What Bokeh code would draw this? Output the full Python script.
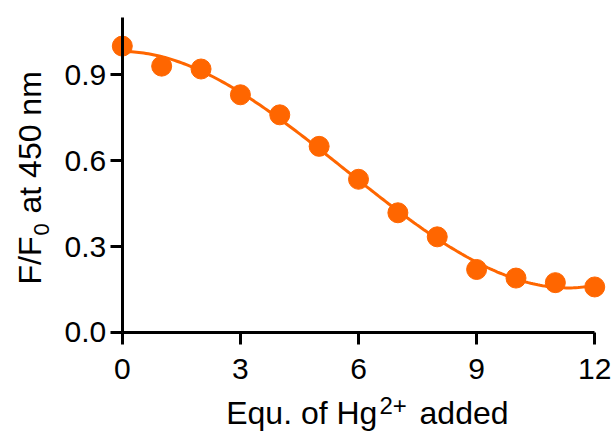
import numpy as np
from bokeh.plotting import figure
from bokeh.models import Range1d, FixedTicker, PrintfTickFormatter, Label
from bokeh.embed import file_html
from bokeh.resources import INLINE

# Data
equiv = [0, 1, 2, 3, 4, 5, 6, 7, 8, 9, 10, 11, 12]
ratio = [1.00, 0.93, 0.92, 0.83, 0.76, 0.65, 0.535, 0.418, 0.334, 0.22, 0.19, 0.174, 0.159]
x_ticks = [0, 3, 6, 9, 12]
y_ticks = [0.0, 0.3, 0.6, 0.9]

ORANGE = "#FF6600"
FONT = "Liberation Sans"

p = figure(width=613, height=432, output_backend="svg", toolbar_location=None,
           x_range=Range1d(-3.094, 12.477), y_range=Range1d(-0.3492, 1.1592),
           min_border=0)
p.outline_line_color = None
p.grid.visible = False
p.background_fill_color = "white"
p.border_fill_color = "white"

# fitted curve (polynomial least-squares fit of the data)
coef = np.polyfit(equiv, ratio, 3)
xf = np.linspace(0, 12, 200)
yf = np.polyval(coef, xf)
p.line(xf, yf, line_color=ORANGE, line_width=3)
p.scatter(equiv, ratio, size=20, fill_color=ORANGE, line_color=ORANGE)

for ax in (p.xaxis[0], p.yaxis[0]):
    ax.axis_line_width = 3
    ax.axis_line_color = "black"
    ax.major_tick_line_width = 3
    ax.major_tick_line_color = "black"
    ax.major_tick_in = 0
    ax.major_tick_out = 12
    ax.minor_tick_line_color = None
    ax.major_label_text_font = FONT
    ax.major_label_text_font_size = "30px"
    ax.major_label_text_color = "black"
    ax.fixed_location = 0

p.xaxis.ticker = FixedTicker(ticks=x_ticks)
p.xaxis.bounds = (0, 12)
p.xaxis.major_label_standoff = 15
p.yaxis.ticker = FixedTicker(ticks=y_ticks)
p.yaxis.formatter = PrintfTickFormatter(format="%.1f")
p.yaxis.bounds = (0, 1.1)
p.yaxis.major_label_standoff = 4

# axis titles with super/subscripts
def lab(x, y, t, size, align, angle=0):
    p.add_layout(Label(x=x, y=y, text=t, text_font=FONT, text_font_size=size,
                       text_align=align, text_baseline="alphabetic", angle=angle,
                       text_color="black"))

lab(6.48, -0.2827, "Equ. of Hg", "32px", "right")
lab(6.53, -0.2560, "2+", "24px", "left")
lab(7.55, -0.2827, "added", "32px", "left")

lab(-2.357, 0.335, "F/F", "32px", "right", np.pi / 2)
lab(-2.05, 0.339, "0", "22px", "left", np.pi / 2)
lab(-2.357, 0.4155, "at 450 nm", "32px", "left", np.pi / 2)

open("out.html", "w").write(file_html(p, INLINE))
